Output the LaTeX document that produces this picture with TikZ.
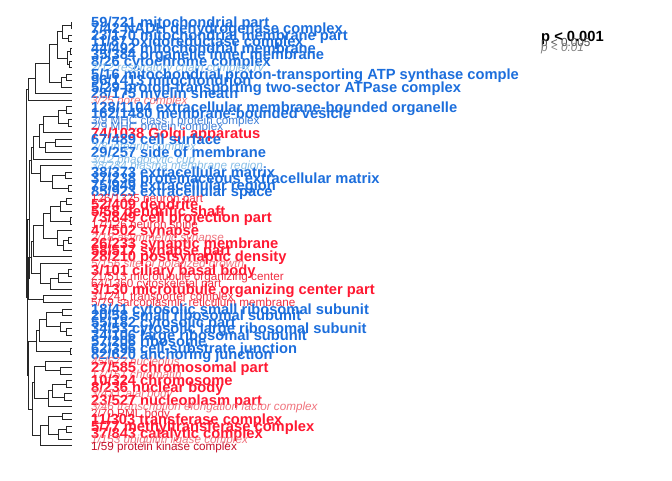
\documentclass[tikz,border=0pt]{standalone}
\usepackage{fontspec}
\setmainfont{Liberation Sans}
\usepackage{xcolor}
\usepackage{tikz}
\usetikzlibrary{positioning,calc}

\definecolor{goblue}{RGB}{28,110,220}
\definecolor{gomidblue}{RGB}{60,125,215}
\definecolor{golightblue}{RGB}{135,190,232}
\definecolor{gored}{RGB}{255,25,50}
\definecolor{gomidred}{RGB}{240,45,65}
\definecolor{gopalered}{RGB}{240,115,125}
\definecolor{godarkred}{RGB}{195,15,40}

% join two branches of the tree at height x
\newcommand{\dmerge}[4]{%
  \path let \p1 = ($(#3)!0.5!(#4)$) in coordinate (#1) at (#2pt,\y1);
  \draw[branch] (#1) |- (#3);
  \draw[branch] (#1) |- (#4);
}

\begin{document}
\begin{tikzpicture}[
  x=1pt, y=-1pt,
  node distance=19pt,
  branch/.style={line width=0.7pt, black!85},
  lbl/.style={inner sep=0pt, text depth=0pt},
  big/.style={lbl, text height=10.5pt, font={\fontsize{14.7}{15}\selectfont\bfseries}},
  mid/.style={lbl, text height=8.4pt, font={\fontsize{11.7}{12}\selectfont}},
  small/.style={lbl, text height=8.4pt, font={\fontsize{11.7}{12}\selectfont\itshape}},
  bigblue/.style={big, text=goblue},
  midblue/.style={mid, text=gomidblue},
  smallblue/.style={small, text=golightblue},
  bigred/.style={big, text=gored},
  midred/.style={mid, text=gomidred},
  smallred/.style={small, text=gopalered},
  darkred/.style={mid, text=godarkred},
  legend/.style={inner sep=0pt, anchor=base west}
]
\useasboundingbox (0,0) rectangle (672,480);

\foreach \i in {1,...,66}
  \coordinate (leaf\i) at (72,{22+6.52*(\i-1)});

% labels
\node[bigblue, right=of leaf1] (lab1) {59/721 mitochondrial part};
\node[bigblue, right=of leaf2] (lab2) {7/42 NADH dehydrogenase complex};
\node[bigblue, right=of leaf3] (lab3) {23/170 mitochondrial membrane part};
\node[bigblue, right=of leaf4] (lab4) {11/87 oxidoreductase complex};
\node[bigblue, right=of leaf5] (lab5) {44/492 mitochondrial membrane};
\node[bigblue, right=of leaf6] (lab6) {35/384 organelle inner membrane};
\node[bigblue, right=of leaf7] (lab7) {8/26 cytochrome complex};
\node[smallblue, right=of leaf8] (lab8) {2/12 respiratory chain complex IV};
\node[bigblue, right=of leaf9] (lab9) {5/16 mitochondrial proton-transporting ATP synthase comple};
\node[bigblue, right=of leaf10] (lab10) {96/1413 mitochondrion};
\node[bigblue, right=of leaf11] (lab11) {5/29 proton-transporting two-sector ATPase complex};
\node[bigblue, right=of leaf12] (lab12) {28/175 myelin sheath};
\node[smallred, right=of leaf13] (lab13) {3/25 pore complex};
\node[bigblue, right=of leaf14] (lab14) {128/1104 extracellular membrane-bounded organelle};
\node[bigblue, right=of leaf15] (lab15) {162/1480 membrane-bounded vesicle};
\node[midblue, right=of leaf16] (lab16) {3/9 MHC class I protein complex};
\node[midblue, right=of leaf17] (lab17) {2/9 MHC protein complex};
\node[bigred, right=of leaf18] (lab18) {74/1038 Golgi apparatus};
\node[bigblue, right=of leaf19] (lab19) {67/489 cell surface};
\node[smallblue, right=of leaf20] (lab20) {2/8 integrin complex};
\node[bigblue, right=of leaf21] (lab21) {29/257 side of membrane};
\node[smallblue, right=of leaf22] (lab22) {3/12 phagocytic cup};
\node[smallblue, right=of leaf23] (lab23) {38/284 plasma membrane region};
\node[bigblue, right=of leaf24] (lab24) {38/373 extracellular matrix};
\node[bigblue, right=of leaf25] (lab25) {37/238 proteinaceous extracellular matrix};
\node[bigblue, right=of leaf26] (lab26) {75/949 extracellular region};
\node[bigblue, right=of leaf27] (lab27) {85/923 extracellular space};
\node[midred, right=of leaf28] (lab28) {126/1325 neuron part};
\node[bigred, right=of leaf29] (lab29) {52/409 dendrite};
\node[bigred, right=of leaf30] (lab30) {5/58 dendritic shaft};
\node[bigred, right=of leaf31] (lab31) {73/849 cell projection part};
\node[midred, right=of leaf32] (lab32) {17/126 neuron spine};
\node[bigred, right=of leaf33] (lab33) {47/502 synapse};
\node[smallred, right=of leaf34] (lab34) {2/18 asymmetric synapse};
\node[bigred, right=of leaf35] (lab35) {26/233 synaptic membrane};
\node[bigred, right=of leaf36] (lab36) {58/517 synapse part};
\node[bigred, right=of leaf37] (lab37) {28/210 postsynaptic density};
\node[smallred, right=of leaf38] (lab38) {5/156 site of polarized growth};
\node[bigred, right=of leaf39] (lab39) {3/101 ciliary basal body};
\node[midred, right=of leaf40] (lab40) {21/513 microtubule organizing center};
\node[midred, right=of leaf41] (lab41) {64/1360 cytoskeletal part};
\node[bigred, right=of leaf42] (lab42) {3/130 microtubule organizing center part};
\node[midred, right=of leaf43] (lab43) {31/241 transporter complex};
\node[midred, right=of leaf44] (lab44) {5/79 sarcoplasmic reticulum membrane};
\node[bigblue, right=of leaf45] (lab45) {18/41 cytosolic small ribosomal subunit};
\node[bigblue, right=of leaf46] (lab46) {20/58 small ribosomal subunit};
\node[bigblue, right=of leaf47] (lab47) {55/182 cytosolic part};
\node[bigblue, right=of leaf48] (lab48) {34/53 cytosolic large ribosomal subunit};
\node[bigblue, right=of leaf49] (lab49) {34/106 large ribosomal subunit};
\node[bigblue, right=of leaf50] (lab50) {57/206 ribosome};
\node[bigblue, right=of leaf51] (lab51) {62/396 cell-substrate junction};
\node[bigblue, right=of leaf52] (lab52) {82/620 anchoring junction};
\node[smallred, right=of leaf53] (lab53) {45/672 nucleolus};
\node[bigred, right=of leaf54] (lab54) {27/585 chromosomal part};
\node[smallred, right=of leaf55] (lab55) {17/151 chromatin};
\node[bigred, right=of leaf56] (lab56) {10/324 chromosome};
\node[bigred, right=of leaf57] (lab57) {8/236 nuclear body};
\node[smallred, right=of leaf58] (lab58) {3/43 Cajal body};
\node[bigred, right=of leaf59] (lab59) {23/527 nucleoplasm part};
\node[smallred, right=of leaf60] (lab60) {3/46 transcription elongation factor complex};
\node[midred, right=of leaf61] (lab61) {2/70 PML body};
\node[bigred, right=of leaf62] (lab62) {11/303 transferase complex};
\node[bigred, right=of leaf63] (lab63) {5/77 methyltransferase complex};
\node[bigred, right=of leaf64] (lab64) {37/843 catalytic complex};
\node[smallred, right=of leaf65] (lab65) {1/153 ubiquitin ligase complex};
\node[darkred, right=of leaf66] (lab66) {1/59 protein kinase complex};

% legend
\node[legend, font={\fontsize{14.7}{15}\selectfont\bfseries}] (p001) at (541,41) {p < 0.001};
\node[legend, font={\fontsize{11.7}{12}\selectfont}, text=black!70] (p005) at (541,46) {p < 0.005};
\node[legend, font={\fontsize{11.7}{12}\selectfont\itshape}, text=black!50] (p01) at (541,51) {p < 0.01};

% tree
\dmerge{a1}{71}{leaf1}{leaf2}
\dmerge{a2}{68}{leaf3}{leaf4}
\dmerge{a3}{62}{a1}{a2}
\dmerge{b1}{70}{leaf5}{leaf6}
\dmerge{b2}{69}{leaf7}{leaf8}
\dmerge{b3}{67}{b1}{b2}
\dmerge{a4}{57}{a3}{b3}
\dmerge{c1}{66}{leaf9}{leaf10}
\dmerge{c2}{61}{c1}{leaf11}
\dmerge{a5}{49}{a4}{c2}
\dmerge{a6}{35}{a5}{leaf12}
\dmerge{d1}{66}{leaf14}{leaf15}
\dmerge{d2}{68}{leaf16}{leaf17}
\dmerge{d3}{58}{d1}{d2}
\dmerge{d4}{43}{d3}{leaf18}
\dmerge{e1}{55}{leaf19}{leaf20}
\dmerge{e2}{45}{e1}{leaf21}
\dmerge{d5}{39}{d4}{e2}
\dmerge{d6}{33}{d5}{leaf22}
\dmerge{h1}{65}{leaf24}{leaf25}
\dmerge{h2}{68}{leaf26}{leaf27}
\dmerge{h3}{52}{h1}{h2}
\dmerge{h4}{40}{leaf23}{h3}
\dmerge{d7}{31}{d6}{h4}
\dmerge{n1}{66}{leaf28}{leaf29}
\dmerge{n2}{60}{n1}{leaf30}
\dmerge{n3}{70}{leaf31}{leaf32}
\dmerge{n4}{50}{n2}{n3}
\dmerge{p1}{68}{leaf34}{leaf35}
\dmerge{p2}{63}{p1}{leaf36}
\dmerge{p3}{57}{leaf33}{p2}
\dmerge{n5}{43}{n4}{p3}
\dmerge{n6}{33}{n5}{leaf37}
\dmerge{q1}{68}{leaf39}{leaf40}
\dmerge{q2}{58}{q1}{leaf41}
\dmerge{q3}{50}{q2}{leaf42}
\dmerge{q4}{40}{leaf38}{q3}
\dmerge{n7}{31}{n6}{q4}
\dmerge{r1}{43}{leaf43}{leaf44}
\dmerge{n8}{28}{n7}{r1}
\dmerge{s1}{62}{leaf45}{leaf46}
\dmerge{s2}{66}{leaf48}{leaf49}
\dmerge{s3}{60}{leaf47}{s2}
\dmerge{s4}{46}{s1}{s3}
\dmerge{s5}{39}{s4}{leaf50}
\dmerge{s6}{70}{leaf51}{leaf52}
\dmerge{s7}{36}{s5}{s6}
\dmerge{t1}{60}{leaf54}{leaf55}
\dmerge{t2}{45}{leaf53}{t1}
\dmerge{t3}{66}{leaf56}{leaf57}
\dmerge{t4}{64}{leaf58}{leaf59}
\dmerge{t5}{52}{t3}{t4}
\dmerge{t6}{48}{t5}{leaf60}
\dmerge{t7}{34}{t2}{t6}
\dmerge{u1}{62}{leaf61}{leaf62}
\dmerge{u2}{66}{leaf63}{leaf64}
\dmerge{u3}{58}{u2}{leaf65}
\dmerge{u4}{48}{u1}{u3}
\dmerge{u5}{40}{u4}{leaf66}
\dmerge{t8}{32}{t7}{u5}
\dmerge{t9}{28}{s7}{t8}
\dmerge{upper}{28}{a6}{leaf13}
\dmerge{centre}{29}{d7}{n8}
\dmerge{lower}{27}{centre}{t9}
\dmerge{root}{26}{upper}{lower}
\end{tikzpicture}
\end{document}
